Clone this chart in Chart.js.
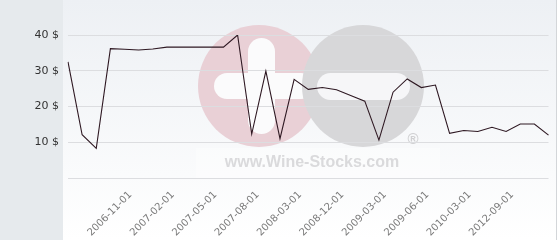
<!DOCTYPE html>
<html>
<head>
<meta charset="utf-8">
<title>Wine price history</title>
<script src="https://cdn.jsdelivr.net/npm/chart.js@4.4.0/dist/chart.umd.min.js"></script>
<style>
    html, body { margin: 0; padding: 0; background: #fff; }
    #wrap { width: 560px; height: 240px; position: relative; }
</style>
</head>
<body>
<div id="wrap"><canvas id="chart" width="560" height="240"></canvas></div>
<script>
// price dates (only some of them get a label on the axis)
const dates = [
    '2006-07-01', '2006-08-01', '2006-09-01', '2006-10-01', '2006-11-01', '2006-12-01',
    '2007-01-01', '2007-02-01', '2007-03-01', '2007-04-01', '2007-05-01', '2007-06-01',
    '2007-07-01', '2007-08-01', '2007-10-01', '2008-01-01', '2008-03-01', '2008-06-01',
    '2008-09-01', '2008-12-01', '2009-01-01', '2009-02-01', '2009-03-01', '2009-04-01',
    '2009-05-01', '2009-06-01', '2009-09-01', '2009-12-01', '2010-03-01', '2011-01-01',
    '2011-11-01', '2012-09-01', '2012-12-01', '2013-03-01', '2013-06-01'
];
const prices = [
    32.5, 12.1, 8.3, 36.2, 36.0, 35.8, 36.1, 36.6, 36.6, 36.6, 36.6, 36.6,
    40.0, 12.3, 29.9, 11.0, 27.6, 24.8, 25.3, 24.7, 23.1, 21.5, 10.6, 24.0,
    27.7, 25.3, 26.0, 12.5, 13.3, 13.0, 14.2, 13.0, 15.1, 15.1, 12.0
];
const shownDates = [
    '2006-11-01', '2007-02-01', '2007-05-01', '2007-08-01', '2008-03-01',
    '2008-12-01', '2009-03-01', '2009-06-01', '2010-03-01', '2012-09-01'
];
const yTicks = [10, 20, 30, 40];

// background panels + faint site watermark
const backdrop = {
    id: 'backdrop',
    beforeDraw(chart) {
        const ctx = chart.ctx;
        ctx.save();
        ctx.fillStyle = '#fff';
        ctx.fillRect(0, 0, 560, 240);
        ctx.fillStyle = '#e6eaed';
        ctx.fillRect(0, 0, 63, 240);
        const g = ctx.createLinearGradient(0, 0, 0, 240);
        g.addColorStop(0, '#edf0f4');
        g.addColorStop(1, '#ffffff');
        ctx.fillStyle = g;
        ctx.fillRect(63, 0, 493, 240);
        ctx.fillStyle = '#d3d6d9';
        ctx.fillRect(556, 0, 1, 240);

        // watermark
        ctx.fillStyle = 'rgba(255,255,255,0.35)';
        ctx.fillRect(196, 148, 244, 30);
        ctx.fillStyle = '#e9d0d6';
        ctx.beginPath(); ctx.arc(259, 86, 61, 0, Math.PI * 2); ctx.fill();
        ctx.fillStyle = '#fbfbfc';
        ctx.beginPath(); ctx.roundRect(214, 73, 100, 26, 13); ctx.fill();
        ctx.beginPath(); ctx.roundRect(248, 38, 27, 96, 13.5); ctx.fill();
        ctx.fillStyle = '#d7d7d9';
        ctx.beginPath(); ctx.arc(363, 86, 61, 0, Math.PI * 2); ctx.fill();
        ctx.fillStyle = '#f6f6f8';
        ctx.beginPath(); ctx.roundRect(317, 73, 93, 27, 13.5); ctx.fill();
        ctx.fillStyle = '#dadadc';
        ctx.font = 'bold 16px "Liberation Sans", Arial, sans-serif';
        ctx.textAlign = 'center';
        ctx.textBaseline = 'alphabetic';
        ctx.fillText('www.Wine-Stocks.com', 312, 167);
        ctx.fillStyle = '#d0d0d2';
        ctx.font = 'bold 15px "Liberation Sans", Arial, sans-serif';
        ctx.fillText('®', 413, 144);
        ctx.restore();
    }
};

new Chart(document.getElementById('chart'), {
    type: 'line',
    data: {
        labels: dates,
        datasets: [{
            data: prices,
            borderColor: '#2e1822',
            borderWidth: 1.1,
            pointRadius: 0,
            tension: 0,
            fill: false
        }]
    },
    options: {
        responsive: false,
        animation: false,
        devicePixelRatio: 1,
        layout: { padding: { top: 35, right: 5, bottom: 0, left: 0 } },
        plugins: { legend: { display: false }, tooltip: { enabled: false } },
        scales: {
            x: {
                offset: false,
                grid: { display: false },
                border: { display: false },
                ticks: {
                    autoSkip: false,
                    minRotation: 45,
                    maxRotation: 45,
                    padding: 3,
                    labelOffset: 6,
                    color: '#7a7a7a',
                    font: { family: 'DejaVu Sans', size: 10 },
                    callback(v, i) { return shownDates.includes(dates[i]) ? dates[i] : ''; }
                },
                afterFit(s) { s.height = 62; }
            },
            y: {
                min: 0,
                max: 40,
                afterBuildTicks(s) { s.ticks = [0].concat(yTicks).map(v => ({ value: v })); },
                grid: { color: '#dcdde0', drawTicks: false },
                border: { display: false },
                ticks: {
                    padding: 9,
                    color: '#333',
                    font: { family: 'DejaVu Sans', size: 11 },
                    callback(v) { return v ? v + ' $' : ''; }
                },
                afterFit(s) { s.width = 68; }
            }
        }
    },
    plugins: [backdrop]
});
</script>
</body>
</html>
